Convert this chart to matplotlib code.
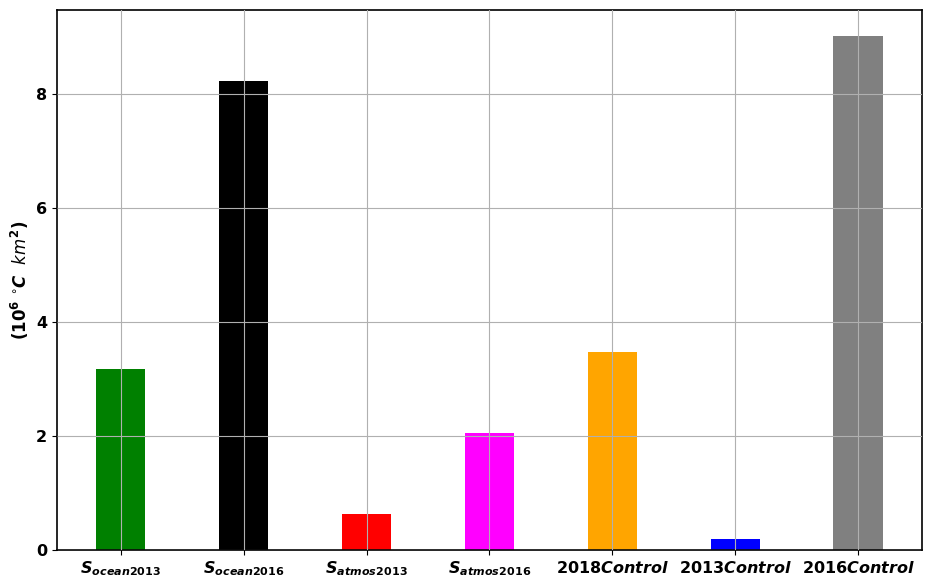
import matplotlib
matplotlib.use("Agg")
import matplotlib.pyplot as plt

labels = [r"$\mathbfit{S}_{\mathbfit{ocean}\mathbf{2013}}$",
          r"$\mathbfit{S}_{\mathbfit{ocean}\mathbf{2016}}$",
          r"$\mathbfit{S}_{\mathbfit{atmos}\mathbf{2013}}$",
          r"$\mathbfit{S}_{\mathbfit{atmos}\mathbf{2016}}$",
          r"2018$\mathbfit{Control}$", r"2013$\mathbfit{Control}$",
          r"2016$\mathbfit{Control}$"]
values = [3.18, 8.22, 0.63, 2.05, 3.47, 0.19, 9.02]
colors = ["green", "black", "red", "magenta", "orange", "blue", "gray"]

fig, ax = plt.subplots(figsize=(9.34, 5.87), dpi=100)
x = range(len(values))
ax.bar(x, values, width=0.4, color=colors, zorder=1)
ax.grid(True, zorder=3)
ax.set_axisbelow(False)
ax.set_xticks(list(x))
ax.set_xticklabels(labels, fontsize=11.5, fontweight="bold")
for t in ax.get_yticklabels():
    t.set_fontweight("bold")
ax.tick_params(axis="y", labelsize=11.5)
ax.set_ylabel(r"$\mathbf{(10^6}\ ^{\circ}\mathbfit{C}\ \ \mathit{km}^{\mathbf{2}}\mathbf{)}$",
              fontsize=12, fontweight="bold")
for s in ax.spines.values():
    s.set_linewidth(1.2)

fig.subplots_adjust(left=0.061, right=0.987, top=0.983, bottom=0.063)
fig.savefig("out.png", dpi=100)
